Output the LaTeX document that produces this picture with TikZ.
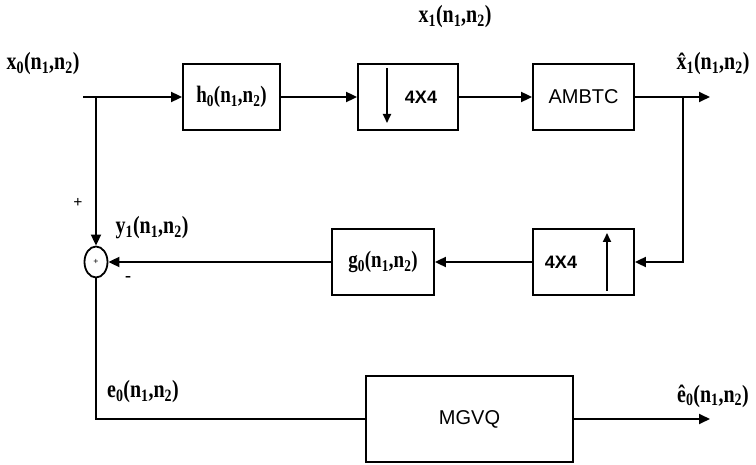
\documentclass[tikz,border=0pt]{standalone}
\usepackage{fontspec}
\usepackage{graphicx}
\setmainfont{Liberation Serif}
\newfontfamily\arialf{Liberation Sans}
\usetikzlibrary{arrows.meta,shapes.geometric}
\newcommand\lbsub[1]{\textsubscript{#1}}
\newcommand\lbtext[1]{\scalebox{0.95}[1.18]{#1}}
\begin{document}
\begin{tikzpicture}[x=1pt,y=-1pt,
  blk/.style={draw, line width=1.8pt, minimum width=100pt, minimum height=66pt, inner sep=0pt, font=\arialf\fontsize{20}{23}\selectfont},
  lbl/.style={inner sep=0pt, font=\bfseries\fontsize{21}{25}\selectfont},
  wire/.style={line width=1.8pt},
  arr/.style={wire, -{Triangle[length=11pt,width=10pt]}},
  inarr/.style={line width=1.8pt, -{Triangle[length=9pt,width=8pt]}}
]
\useasboundingbox (0,0) rectangle (756,465);
% blocks
\node[blk, minimum width=97pt, font=\bfseries\fontsize{20}{24}\selectfont] (h0) at (231.5,97) {\lbtext{h\lbsub{0}(n\lbsub{1},n\lbsub{2})}};
\node[blk] (dn) at (408,97) {};
\node[inner sep=0pt, font=\arialf\bfseries\fontsize{18}{22}\selectfont] (dntxt) at (421,97) {4X4};
\node[blk, minimum width=101pt] (am) at (583.5,97) {AMBTC};
\node[blk, minimum width=101pt] (up) at (583.5,262) {};
\node[inner sep=0pt, font=\arialf\bfseries\fontsize{18}{22}\selectfont] (uptxt) at (561,262) {4X4};
\node[blk, minimum width=102pt, font=\bfseries\fontsize{20}{24}\selectfont] (g0) at (383,262) {\lbtext{g\lbsub{0}(n\lbsub{1},n\lbsub{2})}};
\node[blk, minimum width=207pt, minimum height=86pt] (mg) at (469.5,419) {MGVQ};
\node[draw, ellipse, line width=1.8pt, minimum width=23pt, minimum height=31pt, inner sep=0pt, font=\bfseries\fontsize{9}{9}\selectfont] (sum) at (96,262) {+};
% arrows inside the 4x4 blocks
\coordinate (dnA) at (387,68);
\coordinate (dnB) at (387,123);
\draw[inarr] (dnA) -- (dnB);
\coordinate (upA) at (607,291);
\coordinate (upB) at (607,233);
\draw[inarr] (upA) -- (upB);
% connectors
\coordinate (in) at (83,97);
\coordinate (br1) at (96,97);
\draw[wire] (in) -- (br1);
\draw[arr] (br1) -- (h0.west);
\draw[arr] (br1) -- (sum.north);
\draw[arr] (h0) -- (dn);
\draw[arr] (dn) -- (am);
\coordinate (out1) at (710,97);
\coordinate (br2) at (683,97);
\coordinate (cr2) at (683,262);
\draw[arr] (am.east) -- (out1);
\draw[arr] (br2) -- (cr2) -- (up.east);
\draw[arr] (up) -- (g0);
\draw[arr] (g0) -- (sum);
\coordinate (cr3) at (96,419);
\draw[wire] (sum.south) -- (cr3) -- (mg.west);
\coordinate (out2) at (710,419);
\draw[arr] (mg) -- (out2);
% labels
\node[lbl] (lx0) at (43,64) {\lbtext{x\lbsub{0}(n\lbsub{1},n\lbsub{2})}};
\node[lbl] (lx1) at (455,17) {\lbtext{x\lbsub{1}(n\lbsub{1},n\lbsub{2})}};
\node[lbl] (lxh) at (713,64) {\lbtext{\^{x}\lbsub{1}(n\lbsub{1},n\lbsub{2})}};
\node[lbl] (ly1) at (152,228) {\lbtext{y\lbsub{1}(n\lbsub{1},n\lbsub{2})}};
\node[lbl, font=\bfseries\fontsize{16}{16}\selectfont] (lplus) at (78,203) {+};
\node[lbl, font=\bfseries\fontsize{18}{18}\selectfont] (lminus) at (128,279) {-};
\node[lbl] (le0) at (143,392) {\lbtext{e\lbsub{0}(n\lbsub{1},n\lbsub{2})}};
\node[lbl] (leh) at (713,396) {\lbtext{ê\lbsub{0}(n\lbsub{1},n\lbsub{2})}};
\end{tikzpicture}
\end{document}
